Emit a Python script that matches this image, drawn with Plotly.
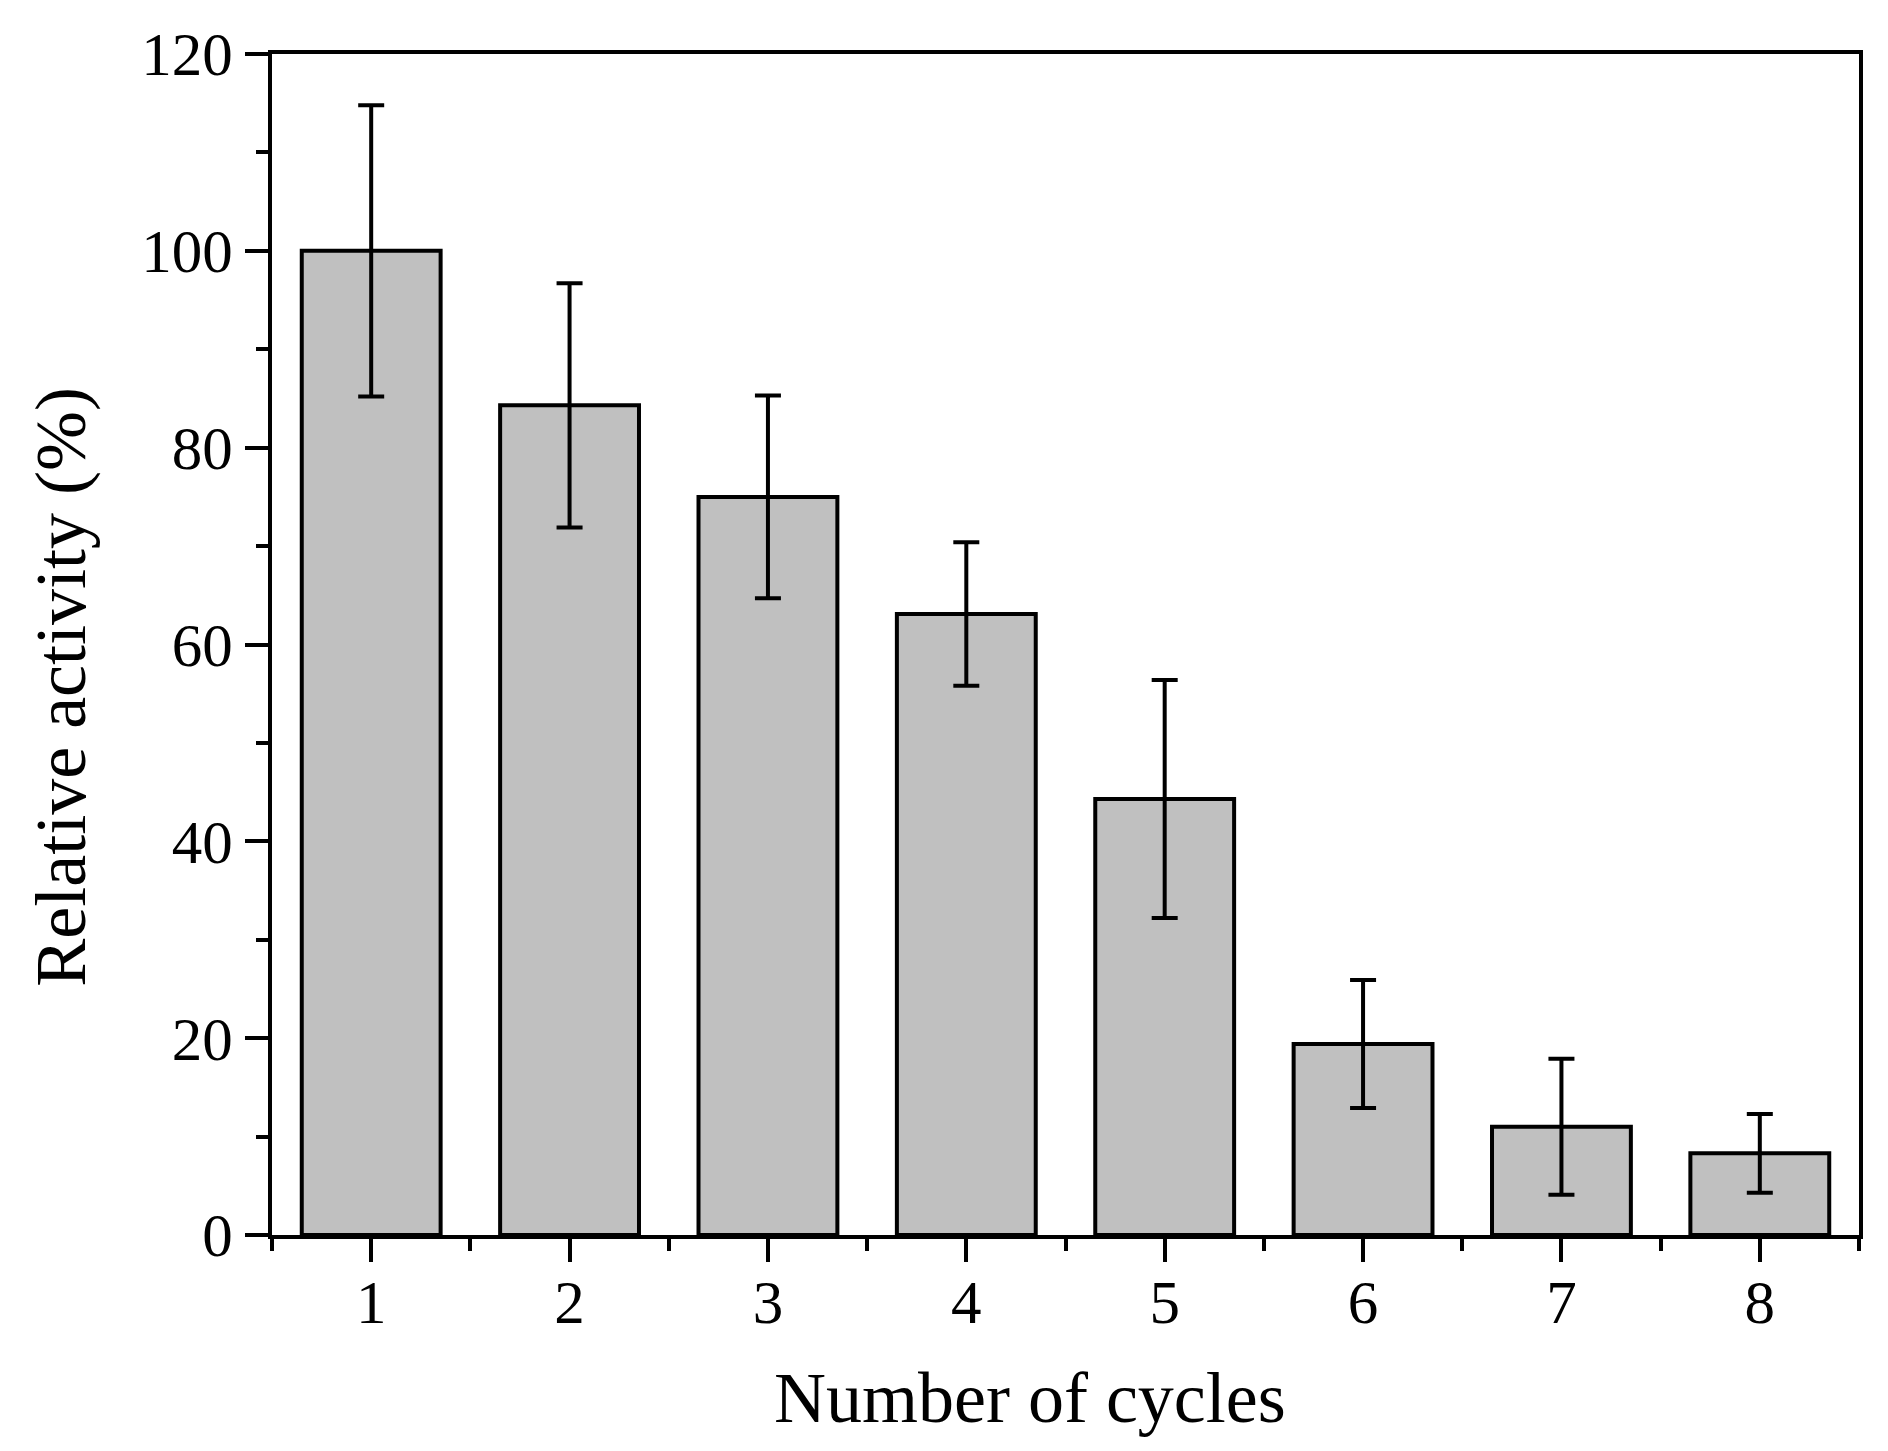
import plotly.graph_objects as go

cycles = [1, 2, 3, 4, 5, 6, 7, 8]
activity = [100.0, 84.3, 75.0, 63.1, 44.3, 19.4, 11.0, 8.3]
activity_err = [14.8, 12.4, 10.3, 7.3, 12.1, 6.5, 6.9, 4.0]

fig = go.Figure()

fig.add_trace(go.Bar(
    x=cycles,
    y=activity,
    width=0.7,
    marker=dict(color='#c0c0c0', line=dict(color='black', width=4)),
    error_y=dict(type='data', array=activity_err, color='black',
                 thickness=4, width=13),
))

axis_font = dict(family='Liberation Serif', size=61, color='black')
title_font = dict(family='Liberation Serif', size=72, color='black')

fig.update_layout(
    width=1888,
    height=1451,
    margin=dict(l=264, r=37, t=46, b=224),
    plot_bgcolor='white',
    paper_bgcolor='white',
    showlegend=False,
    xaxis=dict(
        range=[0.5, 8.5],
        tickmode='linear', tick0=1, dtick=1,
        ticks='outside', ticklen=23, tickwidth=4, tickcolor='black',
        minor=dict(ticks='outside', ticklen=12, tickwidth=4,
                   tickcolor='black', dtick=0.5, tick0=0.5),
        showline=True, linecolor='black', linewidth=4, mirror=True,
        showgrid=False, zeroline=False,
        tickfont=axis_font, ticklabelstandoff=-12,
    ),
    yaxis=dict(
        range=[0, 120],
        tickmode='linear', tick0=0, dtick=20,
        ticks='outside', ticklen=23, tickwidth=4, tickcolor='black',
        minor=dict(ticks='outside', ticklen=12, tickwidth=4,
                   tickcolor='black', dtick=10),
        showline=True, linecolor='black', linewidth=4, mirror=True,
        showgrid=False, zeroline=False,
        tickfont=axis_font,
    ),
    annotations=[
        dict(text='Number of cycles', font=title_font, showarrow=False,
             xref='x', x=4.32, yref='paper', y=-0.138,
             xanchor='center', yanchor='middle'),
        dict(text='Relative activity (%)', font=title_font, showarrow=False,
             textangle=-90, xref='paper', x=-0.133, yref='y', y=55.7,
             xanchor='center', yanchor='middle'),
    ],
)

fig.write_html("out.html")
